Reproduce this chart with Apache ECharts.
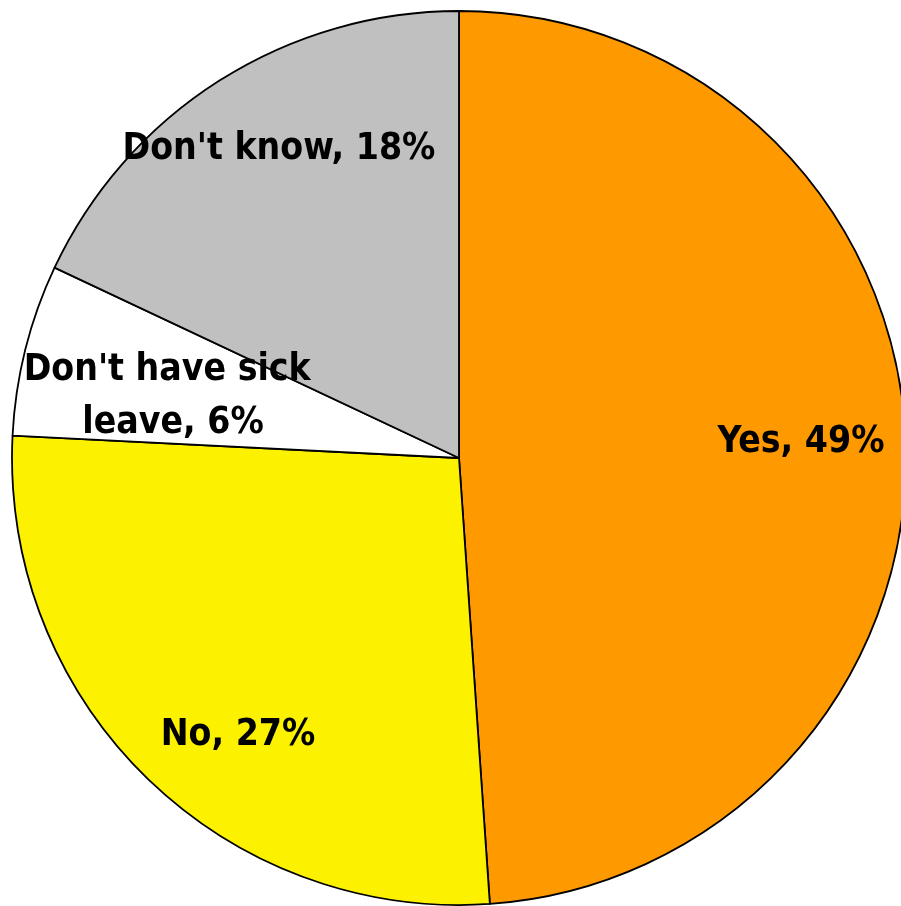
<!DOCTYPE html>
<html>
<head>
<meta charset="utf-8">
<script src="https://cdn.jsdelivr.net/npm/echarts@6/dist/echarts.min.js"></script>
<style>
html,body{margin:0;padding:0;background:#fff;}
#chart{width:901px;height:906px;}
</style>
</head>
<body>
<div id="chart"></div>
<script>
// Data
var categories = ["Yes", "No", "Don't have sick leave", "Don't know"];
var values = [48.9, 26.9, 6.2, 18.0];
var colors = ["#FF9900", "#FCF200", "#FFFFFF", "#C0C0C0"];
// label placement offsets from pie center, in px (style only)
var labelOffsets = [[342, -16], [-221, 277], [-286, -61], [-180, -309]];

var center = [459, 458];
var radius = 447;

var chart = echarts.init(document.getElementById('chart'), null, {renderer: 'canvas'});
var data = categories.map(function (c, i) {
  var item = {name: c, value: values[i], itemStyle: {color: colors[i]}};
  if (i === 2) {
    item.label = {width: 310, overflow: 'break'};
  }
  return item;
});
chart.setOption({
  animation: false,
  series: [{
    type: 'pie',
    center: center,
    radius: [0, radius],
    startAngle: 90,
    clockwise: true,
    avoidLabelOverlap: false,
    itemStyle: {borderColor: '#000', borderWidth: 1.8},
    emphasis: {disabled: true},
    labelLine: {show: false},
    label: {
      show: true,
      position: 'inside',
      color: '#000',
      fontFamily: '"DejaVu Sans Condensed", "DejaVu Sans", sans-serif',
      fontWeight: 'bold',
      fontSize: 37,
      lineHeight: 53,
      align: 'center',
      verticalAlign: 'middle',
      formatter: function (p) {
        return p.name + ', ' + Math.round(p.value) + '%';
      }
    },
    labelLayout: function (params) {
      var o = labelOffsets[params.dataIndex];
      return {x: center[0] + o[0], y: center[1] + o[1], align: 'center', verticalAlign: 'middle'};
    },
    data: data
  }]
});
</script>
</body>
</html>
